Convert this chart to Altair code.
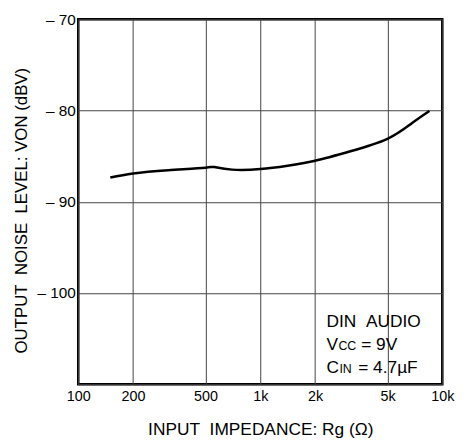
import altair as alt
import pandas as pd

rg = [150, 200, 312, 500, 560, 700, 1000, 1414, 2000, 3130, 5000, 6800, 8500]
von = [-87.35, -86.9, -86.55, -86.27, -86.2, -86.48, -86.42, -86.05, -85.5, -84.46, -83.1, -81.4, -80.05]

x_ticks = [100, 200, 500, 1000, 2000, 5000, 10000]
y_ticks = [-110, -100, -90, -80, -70]

df = pd.DataFrame({"rg": rg, "von": von})

FONT = "Liberation Sans"
NB = "\u00a0"

xscale = alt.Scale(type="log", domain=[100, 10000], nice=False)
yscale = alt.Scale(domain=[-110, -70], nice=False, zero=False)

line = alt.Chart(df).mark_line(color="black", strokeWidth=2.5, interpolate="natural").encode(
    x=alt.X("rg:Q", scale=xscale,
            axis=alt.Axis(values=x_ticks, title=f"INPUT{NB}{NB}IMPEDANCE: Rg (Ω)",
                          labelExpr="datum.value >= 1000 ? format(datum.value/1000, 'd') + 'k' : format(datum.value, 'd')",
                          grid=True, gridColor="#444", gridWidth=1, gridOpacity=1,
                          ticks=False, domain=False, labelPadding=5, labelFontSize=14.5,
                          labelColor="black", labelFont=FONT, titleFont=FONT, titleFontSize=17.5,
                          titleFontWeight="normal", titleColor="black", titlePadding=18,
                          labelFlush=False, labelOverlap=False)),
    y=alt.Y("von:Q", scale=yscale,
            axis=alt.Axis(values=y_ticks, title=f"OUTPUT{NB}{NB}NOISE{NB}{NB}LEVEL: VON (dBV)",
                          labelExpr="datum.value == -110 ? '' : '–\u00a0' + format(-datum.value, 'd')",
                          grid=True, gridColor="#444", gridWidth=1, gridOpacity=1,
                          ticks=False, domain=False, labelPadding=3, labelFontSize=15.5,
                          labelColor="black", labelFont=FONT, titleFont=FONT, titleFontSize=17,
                          titleFontWeight="normal", titleColor="black", titlePadding=6,
                          titleY=193,
                          labelFlush=False, labelOverlap=False)),
)

ann_text = [f"DIN{NB}{NB}AUDIO", "V", "CC", "= 9V", "C", "IN", "= 4.7µF"]
ann_px = [251, 251, 263, 286, 251, 264, 283]
ann_py = [311.3, 334.7, 334.7, 334.7, 358, 358, 358]
ann_fs = [17.5, 17.5, 12.5, 17.5, 17.5, 12.5, 17.5]

texts = []
for t, px, py, fs in zip(ann_text, ann_px, ann_py, ann_fs):
    row = pd.DataFrame({"t": [t]})
    texts.append(
        alt.Chart(row).mark_text(align="left", baseline="alphabetic", font=FONT,
                                 fontSize=fs, color="black").encode(
            x=alt.value(px),
            y=alt.value(py),
            text="t:N",
        )
    )

chart = alt.layer(line, *texts).properties(
    width=368, height=369,
    autosize=alt.AutoSizeParams(type="none"),
    padding={"left": 71, "top": 9, "right": 25, "bottom": 55},
    background="white",
).configure_view(stroke="black", strokeWidth=2.5)

chart.save("out.html", embed_options={"renderer": "svg", "actions": False})
